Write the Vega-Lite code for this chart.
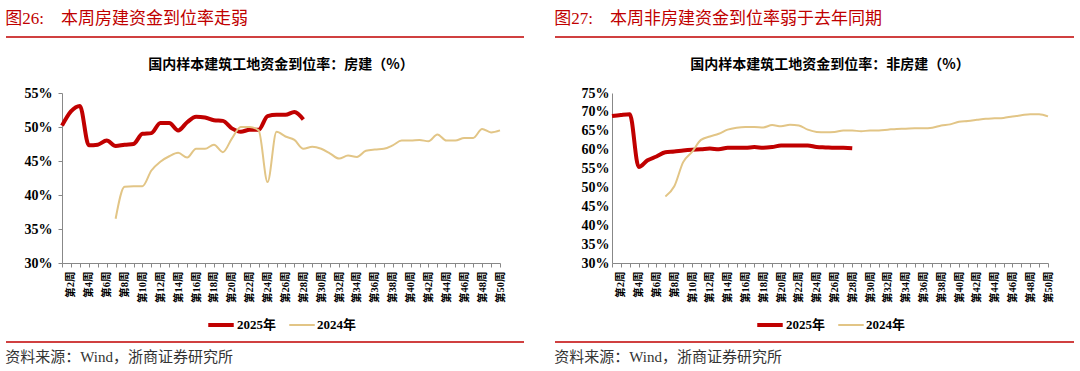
{
  "$schema": "https://vega.github.io/schema/vega-lite/v6.json",
  "padding": {"left": 5, "top": 10, "right": 0, "bottom": 0},
  "background": "white",
  "spacing": 29,
  "resolve": {"scale": {"color": "independent", "strokeWidth": "independent"}, "legend": {"color": "independent", "strokeWidth": "independent"}},
  "config": {
    "view": {"stroke": null},
    "font": "Liberation Serif, Noto Sans CJK SC",
    "axis": {"domainColor": "#888888", "tickColor": "#888888", "labelFont": "Liberation Serif, Noto Sans CJK SC", "labelFontWeight": "bold", "labelColor": "#000000", "grid": false, "title": null},
    "legend": {"layout": {"bottom": {"anchor": "middle"}}}
  },
  "hconcat": [
    {
      "spacing": 8,
      "resolve": {"scale": {"color": "independent", "strokeWidth": "independent"}, "legend": {"color": "independent", "strokeWidth": "independent"}},
      "vconcat": [
        {
          "title": {"text": "图26:　本周房建资金到位率走弱", "anchor": "start", "color": "#C00000", "fontSize": 17, "fontWeight": "normal", "font": "Liberation Serif, Noto Sans CJK SC", "offset": 8},
          "width": 438, "height": 13,
          "data": {"values": [{"a": 0}]},
          "mark": {"type": "rule", "color": "#C00000", "strokeWidth": 1.5},
          "encoding": {
            "x": {"datum": -56, "type": "quantitative", "scale": {"domain": [0, 438], "nice": false, "zero": false}, "axis": null},
            "x2": {"datum": 462},
            "y": {"datum": 1, "type": "quantitative", "scale": {"domain": [0, 1]}, "axis": null}
          }
        },
        {
          "title": {"text": "国内样本建筑工地资金到位率：房建（%）", "anchor": "middle", "frame": "group", "fontSize": 14, "fontWeight": "bold", "font": "Noto Sans CJK SC", "offset": 14, "color": "#000000"},
          "width": 438, "height": 170,
          "data": {"values": [
            {"week": 1, "series": "2025年", "value": 50.2},
            {"week": 2, "series": "2025年", "value": 52.3},
            {"week": 3, "series": "2025年", "value": 53.1},
            {"week": 4, "series": "2025年", "value": 47.3},
            {"week": 5, "series": "2025年", "value": 47.4},
            {"week": 6, "series": "2025年", "value": 48.0},
            {"week": 7, "series": "2025年", "value": 47.2},
            {"week": 8, "series": "2025年", "value": 47.4},
            {"week": 9, "series": "2025年", "value": 47.5},
            {"week": 10, "series": "2025年", "value": 49.0},
            {"week": 11, "series": "2025年", "value": 49.1},
            {"week": 12, "series": "2025年", "value": 50.6},
            {"week": 13, "series": "2025年", "value": 50.6},
            {"week": 14, "series": "2025年", "value": 49.5},
            {"week": 15, "series": "2025年", "value": 50.7},
            {"week": 16, "series": "2025年", "value": 51.5},
            {"week": 17, "series": "2025年", "value": 51.4},
            {"week": 18, "series": "2025年", "value": 51.0},
            {"week": 19, "series": "2025年", "value": 50.9},
            {"week": 20, "series": "2025年", "value": 49.8},
            {"week": 21, "series": "2025年", "value": 49.3},
            {"week": 22, "series": "2025年", "value": 49.6},
            {"week": 23, "series": "2025年", "value": 49.6},
            {"week": 24, "series": "2025年", "value": 51.6},
            {"week": 25, "series": "2025年", "value": 51.8},
            {"week": 26, "series": "2025年", "value": 51.8},
            {"week": 27, "series": "2025年", "value": 52.2},
            {"week": 28, "series": "2025年", "value": 51.1},
            {"week": 7, "series": "2024年", "value": 36.5},
            {"week": 8, "series": "2024年", "value": 41.2},
            {"week": 9, "series": "2024年", "value": 41.3},
            {"week": 10, "series": "2024年", "value": 41.3},
            {"week": 11, "series": "2024年", "value": 43.6},
            {"week": 12, "series": "2024年", "value": 44.9},
            {"week": 13, "series": "2024年", "value": 45.7},
            {"week": 14, "series": "2024年", "value": 46.2},
            {"week": 15, "series": "2024年", "value": 45.5},
            {"week": 16, "series": "2024年", "value": 46.8},
            {"week": 17, "series": "2024年", "value": 46.8},
            {"week": 18, "series": "2024年", "value": 47.4},
            {"week": 19, "series": "2024年", "value": 46.3},
            {"week": 20, "series": "2024年", "value": 48.3},
            {"week": 21, "series": "2024年", "value": 50.0},
            {"week": 22, "series": "2024年", "value": 50.0},
            {"week": 23, "series": "2024年", "value": 49.5},
            {"week": 24, "series": "2024年", "value": 41.9},
            {"week": 25, "series": "2024年", "value": 49.3},
            {"week": 26, "series": "2024年", "value": 48.6},
            {"week": 27, "series": "2024年", "value": 48.1},
            {"week": 28, "series": "2024年", "value": 46.8},
            {"week": 29, "series": "2024年", "value": 47.1},
            {"week": 30, "series": "2024年", "value": 46.8},
            {"week": 31, "series": "2024年", "value": 46.1},
            {"week": 32, "series": "2024年", "value": 45.35},
            {"week": 33, "series": "2024年", "value": 45.8},
            {"week": 34, "series": "2024年", "value": 45.6},
            {"week": 35, "series": "2024年", "value": 46.5},
            {"week": 36, "series": "2024年", "value": 46.7},
            {"week": 37, "series": "2024年", "value": 46.8},
            {"week": 38, "series": "2024年", "value": 47.3},
            {"week": 39, "series": "2024年", "value": 48.0},
            {"week": 40, "series": "2024年", "value": 48.0},
            {"week": 41, "series": "2024年", "value": 48.1},
            {"week": 42, "series": "2024年", "value": 47.9},
            {"week": 43, "series": "2024年", "value": 48.9},
            {"week": 44, "series": "2024年", "value": 48.0},
            {"week": 45, "series": "2024年", "value": 48.0},
            {"week": 46, "series": "2024年", "value": 48.4},
            {"week": 47, "series": "2024年", "value": 48.4},
            {"week": 48, "series": "2024年", "value": 49.7},
            {"week": 49, "series": "2024年", "value": 49.2},
            {"week": 50, "series": "2024年", "value": 49.5}
          ]},
          "mark": {"type": "line", "interpolate": "monotone"},
          "encoding": {
            "x": {"field": "week", "type": "ordinal", "scale": {"type": "point", "padding": 0}, "axis": {"labelAngle": -90, "labelExpr": "datum.value % 2 == 0 ? '第' + datum.value + '周' : ''", "labelFontSize": 10.5, "tickSize": 4, "labelPadding": 4, "labelOverlap": false}},
            "y": {"field": "value", "type": "quantitative", "scale": {"domain": [30, 55], "nice": false, "zero": false}, "axis": {"values": [30, 35, 40, 45, 50, 55], "labelExpr": "datum.value + '%'", "labelFontSize": 14, "tickSize": 4, "labelPadding": 6}},
            "color": {"field": "series", "type": "nominal", "scale": {"domain": ["2025年", "2024年"], "range": ["#C00000", "#E2C586"]}, "legend": {"orient": "bottom", "title": null, "direction": "horizontal", "symbolType": "stroke", "symbolSize": 650, "labelFontSize": 13, "labelFontWeight": "bold", "labelFont": "Liberation Serif, Noto Sans CJK SC", "labelColor": "#000000", "columnPadding": 8, "offset": 7, "labelOffset": 1}},
            "strokeWidth": {"field": "series", "type": "nominal", "scale": {"domain": ["2025年", "2024年"], "range": [4, 2]}, "legend": {"orient": "bottom", "title": null, "direction": "horizontal", "symbolType": "stroke", "symbolSize": 650, "labelFontSize": 13, "labelFontWeight": "bold", "labelFont": "Liberation Serif, Noto Sans CJK SC", "labelColor": "#000000", "columnPadding": 8, "offset": 7, "labelOffset": 1}}
          }
        },
        {
          "title": {"text": "资料来源：Wind，浙商证券研究所", "orient": "bottom", "anchor": "start", "fontSize": 15, "fontWeight": "normal", "color": "#333333", "offset": 6, "font": "Liberation Serif, Noto Sans CJK SC"},
          "width": 438, "height": 2,
          "data": {"values": [{"a": 0}]},
          "mark": {"type": "rule", "color": "#C00000", "strokeWidth": 1.5},
          "encoding": {
            "x": {"datum": -56, "type": "quantitative", "scale": {"domain": [0, 438], "nice": false, "zero": false}, "axis": null},
            "x2": {"datum": 462},
            "y": {"datum": 1, "type": "quantitative", "scale": {"domain": [0, 1]}, "axis": null}
          }
        }
      ]
    },
    {
      "spacing": 8,
      "resolve": {"scale": {"color": "independent", "strokeWidth": "independent"}, "legend": {"color": "independent", "strokeWidth": "independent"}},
      "vconcat": [
        {
          "title": {"text": "图27:　本周非房建资金到位率弱于去年同期", "anchor": "start", "color": "#C00000", "fontSize": 17, "fontWeight": "normal", "font": "Liberation Serif, Noto Sans CJK SC", "offset": 8},
          "width": 436, "height": 13,
          "data": {"values": [{"a": 0}]},
          "mark": {"type": "rule", "color": "#C00000", "strokeWidth": 1.5},
          "encoding": {
            "x": {"datum": -57, "type": "quantitative", "scale": {"domain": [0, 436], "nice": false, "zero": false}, "axis": null},
            "x2": {"datum": 462},
            "y": {"datum": 1, "type": "quantitative", "scale": {"domain": [0, 1]}, "axis": null}
          }
        },
        {
          "title": {"text": "国内样本建筑工地资金到位率：非房建（%）", "anchor": "middle", "frame": "group", "fontSize": 14, "fontWeight": "bold", "font": "Noto Sans CJK SC", "offset": 14, "color": "#000000"},
          "width": 436, "height": 170,
          "data": {"values": [
            {"week": 1, "series": "2025年", "value": 68.9},
            {"week": 2, "series": "2025年", "value": 69.2},
            {"week": 3, "series": "2025年", "value": 69.4},
            {"week": 4, "series": "2025年", "value": 55.4},
            {"week": 5, "series": "2025年", "value": 57.2},
            {"week": 6, "series": "2025年", "value": 58.2},
            {"week": 7, "series": "2025年", "value": 59.3},
            {"week": 8, "series": "2025年", "value": 59.5},
            {"week": 9, "series": "2025年", "value": 59.8},
            {"week": 10, "series": "2025年", "value": 60.0},
            {"week": 11, "series": "2025年", "value": 60.1},
            {"week": 12, "series": "2025年", "value": 60.3},
            {"week": 13, "series": "2025年", "value": 60.1},
            {"week": 14, "series": "2025年", "value": 60.5},
            {"week": 15, "series": "2025年", "value": 60.5},
            {"week": 16, "series": "2025年", "value": 60.5},
            {"week": 17, "series": "2025年", "value": 60.7},
            {"week": 18, "series": "2025年", "value": 60.5},
            {"week": 19, "series": "2025年", "value": 60.7},
            {"week": 20, "series": "2025年", "value": 61.1},
            {"week": 21, "series": "2025年", "value": 61.1},
            {"week": 22, "series": "2025年", "value": 61.1},
            {"week": 23, "series": "2025年", "value": 61.1},
            {"week": 24, "series": "2025年", "value": 60.7},
            {"week": 25, "series": "2025年", "value": 60.6},
            {"week": 26, "series": "2025年", "value": 60.5},
            {"week": 27, "series": "2025年", "value": 60.5},
            {"week": 28, "series": "2025年", "value": 60.4},
            {"week": 7, "series": "2024年", "value": 47.6},
            {"week": 8, "series": "2024年", "value": 50.3},
            {"week": 9, "series": "2024年", "value": 56.7},
            {"week": 10, "series": "2024年", "value": 59.4},
            {"week": 11, "series": "2024年", "value": 62.6},
            {"week": 12, "series": "2024年", "value": 63.5},
            {"week": 13, "series": "2024年", "value": 64.2},
            {"week": 14, "series": "2024年", "value": 65.3},
            {"week": 15, "series": "2024年", "value": 65.8},
            {"week": 16, "series": "2024年", "value": 66.0},
            {"week": 17, "series": "2024年", "value": 66.0},
            {"week": 18, "series": "2024年", "value": 65.9},
            {"week": 19, "series": "2024年", "value": 66.5},
            {"week": 20, "series": "2024年", "value": 66.2},
            {"week": 21, "series": "2024年", "value": 66.6},
            {"week": 22, "series": "2024年", "value": 66.4},
            {"week": 23, "series": "2024年", "value": 65.3},
            {"week": 24, "series": "2024年", "value": 64.7},
            {"week": 25, "series": "2024年", "value": 64.6},
            {"week": 26, "series": "2024年", "value": 64.7},
            {"week": 27, "series": "2024年", "value": 65.1},
            {"week": 28, "series": "2024年", "value": 65.1},
            {"week": 29, "series": "2024年", "value": 64.85},
            {"week": 30, "series": "2024年", "value": 65.1},
            {"week": 31, "series": "2024年", "value": 65.1},
            {"week": 32, "series": "2024年", "value": 65.3},
            {"week": 33, "series": "2024年", "value": 65.5},
            {"week": 34, "series": "2024年", "value": 65.55},
            {"week": 35, "series": "2024年", "value": 65.65},
            {"week": 36, "series": "2024年", "value": 65.65},
            {"week": 37, "series": "2024年", "value": 65.8},
            {"week": 38, "series": "2024年", "value": 66.4},
            {"week": 39, "series": "2024年", "value": 66.7},
            {"week": 40, "series": "2024年", "value": 67.4},
            {"week": 41, "series": "2024年", "value": 67.6},
            {"week": 42, "series": "2024年", "value": 67.9},
            {"week": 43, "series": "2024年", "value": 68.2},
            {"week": 44, "series": "2024年", "value": 68.3},
            {"week": 45, "series": "2024年", "value": 68.4},
            {"week": 46, "series": "2024年", "value": 68.8},
            {"week": 47, "series": "2024年", "value": 69.1},
            {"week": 48, "series": "2024年", "value": 69.4},
            {"week": 49, "series": "2024年", "value": 69.35},
            {"week": 50, "series": "2024年", "value": 68.8}
          ]},
          "mark": {"type": "line", "interpolate": "monotone"},
          "encoding": {
            "x": {"field": "week", "type": "ordinal", "scale": {"type": "point", "padding": 0}, "axis": {"labelAngle": -90, "labelExpr": "datum.value % 2 == 0 ? '第' + datum.value + '周' : ''", "labelFontSize": 10.5, "tickSize": 4, "labelPadding": 4, "labelOverlap": false}},
            "y": {"field": "value", "type": "quantitative", "scale": {"domain": [30, 75], "nice": false, "zero": false}, "axis": {"values": [30, 35, 40, 45, 50, 55, 60, 65, 70, 75], "labelExpr": "datum.value + '%'", "labelFontSize": 14, "tickSize": 0, "labelPadding": 3}},
            "color": {"field": "series", "type": "nominal", "scale": {"domain": ["2025年", "2024年"], "range": ["#C00000", "#E2C586"]}, "legend": {"orient": "bottom", "title": null, "direction": "horizontal", "symbolType": "stroke", "symbolSize": 650, "labelFontSize": 13, "labelFontWeight": "bold", "labelFont": "Liberation Serif, Noto Sans CJK SC", "labelColor": "#000000", "columnPadding": 8, "offset": 7, "labelOffset": 1}},
            "strokeWidth": {"field": "series", "type": "nominal", "scale": {"domain": ["2025年", "2024年"], "range": [4, 2]}, "legend": {"orient": "bottom", "title": null, "direction": "horizontal", "symbolType": "stroke", "symbolSize": 650, "labelFontSize": 13, "labelFontWeight": "bold", "labelFont": "Liberation Serif, Noto Sans CJK SC", "labelColor": "#000000", "columnPadding": 8, "offset": 7, "labelOffset": 1}}
          }
        },
        {
          "title": {"text": "资料来源：Wind，浙商证券研究所", "orient": "bottom", "anchor": "start", "fontSize": 15, "fontWeight": "normal", "color": "#333333", "offset": 6, "font": "Liberation Serif, Noto Sans CJK SC"},
          "width": 436, "height": 2,
          "data": {"values": [{"a": 0}]},
          "mark": {"type": "rule", "color": "#C00000", "strokeWidth": 1.5},
          "encoding": {
            "x": {"datum": -57, "type": "quantitative", "scale": {"domain": [0, 436], "nice": false, "zero": false}, "axis": null},
            "x2": {"datum": 462},
            "y": {"datum": 1, "type": "quantitative", "scale": {"domain": [0, 1]}, "axis": null}
          }
        }
      ]
    }
  ]
}
